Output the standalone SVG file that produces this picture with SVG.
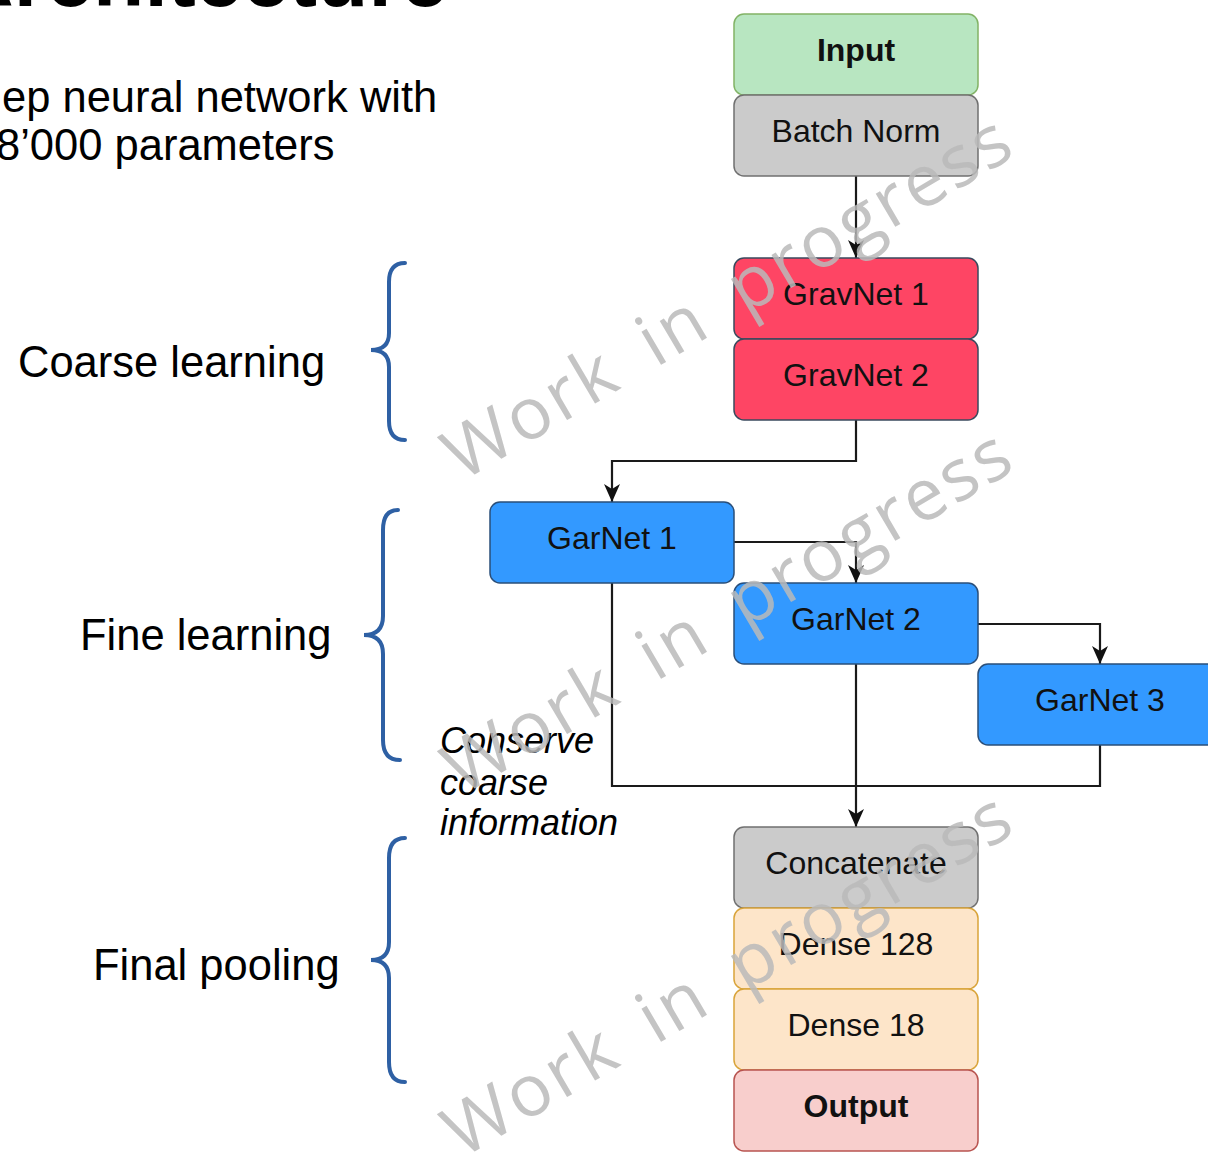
<svg xmlns="http://www.w3.org/2000/svg" width="1208" height="1153" viewBox="0 0 1208 1153">
<style>
.node rect{stroke-width:1.5}
.lbl{font-family:"Liberation Sans",Arial,sans-serif;font-size:32px;fill:#111;text-anchor:middle}
.bold{font-weight:bold}
.side{font-family:"Liberation Sans",Arial,sans-serif;font-size:43.5px;fill:#000}
.note{font-family:"Liberation Sans",Arial,sans-serif;font-size:36px;font-style:italic;fill:#000}
.brace{fill:none;stroke:#2e60a4;stroke-width:4;stroke-linecap:round}
.conn path{fill:none;stroke:#1a1a1a;stroke-width:2.2}
.wm{font-family:"Open Sans","DejaVu Sans",sans-serif;font-size:72px;letter-spacing:3px;word-spacing:14px;fill:#bababa;fill-opacity:0.85}
.green{fill:#b8e6c1;stroke:#82b366}
.grey{fill:#cbcbcb;stroke:#707070}
.red{fill:#fe4564;stroke:#3a4a5e}
.blue{fill:#3399ff;stroke:#2a4f7a}
.orange{fill:#fde5c9;stroke:#d9a43a}
.pink{fill:#f8cecc;stroke:#b85450}
</style>
<defs>
<marker id="arr" markerUnits="userSpaceOnUse" markerWidth="20" markerHeight="20" viewBox="0 0 20 20" refX="19" refY="10" orient="auto">
<path d="M1,2 L19,10 L1,18 L6,10 z" fill="#111"/>
</marker>
</defs>
<rect width="1208" height="1153" fill="#fff"/>

<g id="title">
<text x="-47" y="6" font-family="'Liberation Sans',Arial,sans-serif" font-size="84" font-weight="bold" fill="#000">Architecture</text>
<text x="2" y="112" class="side">ep neural network with</text>
<text x="-4" y="160" class="side">8’000 parameters</text>
</g>

<g id="labels">
<text x="18" y="377" class="side">Coarse learning</text>
<text x="80" y="650" class="side">Fine learning</text>
<text x="93" y="980" class="side">Final pooling</text>
<text class="note"><tspan x="440" y="753">Conserve</tspan><tspan x="440" y="795">coarse</tspan><tspan x="440" y="835">information</tspan></text>
</g>

<g id="braces">
<path class="brace" d="M405,263 Q389,263 389,282 L389,333 Q389,350 371,350 Q389,350 389,367 L389,421 Q389,440 405,440"/>
<path class="brace" d="M398,510 Q383,510 383,530 L383,616 Q383,635 364,635 Q383,635 383,654 L383,740 Q383,760 400,760"/>
<path class="brace" d="M405,838 Q389,838 389,858 L389,942 Q389,960 371,960 Q389,960 389,978 L389,1062 Q389,1082 405,1082"/>
</g>

<g class="conn" id="connectors">
<path d="M856,176 V258" marker-end="url(#arr)"/>
<path d="M856,420 V461 H612 V502" marker-end="url(#arr)"/>
<path d="M734,542 H856 V583" marker-end="url(#arr)"/>
<path d="M978,624 H1100 V664" marker-end="url(#arr)"/>
<path d="M612,583 V786 H856"/>
<path d="M1100,745 V786 H856"/>
<path d="M856,664 V827" marker-end="url(#arr)"/>
</g>

<g id="n-input" class="node"><rect x="734" y="14" width="244" height="81" rx="10" class="green"/><text x="856" y="61" class="lbl bold">Input</text></g>
<g id="n-batchnorm" class="node"><rect x="734" y="95" width="244" height="81" rx="10" class="grey"/><text x="856" y="142" class="lbl">Batch Norm</text></g>
<g id="n-gravnet1" class="node"><rect x="734" y="258" width="244" height="81" rx="10" class="red"/><text x="856" y="305" class="lbl">GravNet 1</text></g>
<g id="n-gravnet2" class="node"><rect x="734" y="339" width="244" height="81" rx="10" class="red"/><text x="856" y="386" class="lbl">GravNet 2</text></g>
<g id="n-garnet1" class="node"><rect x="490" y="502" width="244" height="81" rx="10" class="blue"/><text x="612" y="549" class="lbl">GarNet 1</text></g>
<g id="n-garnet2" class="node"><rect x="734" y="583" width="244" height="81" rx="10" class="blue"/><text x="856" y="630" class="lbl">GarNet 2</text></g>
<g id="n-garnet3" class="node"><rect x="978" y="664" width="244" height="81" rx="10" class="blue"/><text x="1100" y="711" class="lbl">GarNet 3</text></g>
<g id="n-concat" class="node"><rect x="734" y="827" width="244" height="81" rx="10" class="grey"/><text x="856" y="874" class="lbl">Concatenate</text></g>
<g id="n-dense128" class="node"><rect x="734" y="908" width="244" height="81" rx="10" class="orange"/><text x="856" y="955" class="lbl">Dense 128</text></g>
<g id="n-dense18" class="node"><rect x="734" y="989" width="244" height="81" rx="10" class="orange"/><text x="856" y="1036" class="lbl">Dense 18</text></g>
<g id="n-output" class="node"><rect x="734" y="1070" width="244" height="81" rx="10" class="pink"/><text x="856" y="1117" class="lbl bold">Output</text></g>

<g id="watermarks">
<text class="wm" transform="translate(462,482) rotate(-30.5)">Work in progress</text>
<text class="wm" transform="translate(462,796) rotate(-30.5)">Work in progress</text>
<text class="wm" transform="translate(462,1159) rotate(-30.5)">Work in progress</text>
</g>
</svg>
